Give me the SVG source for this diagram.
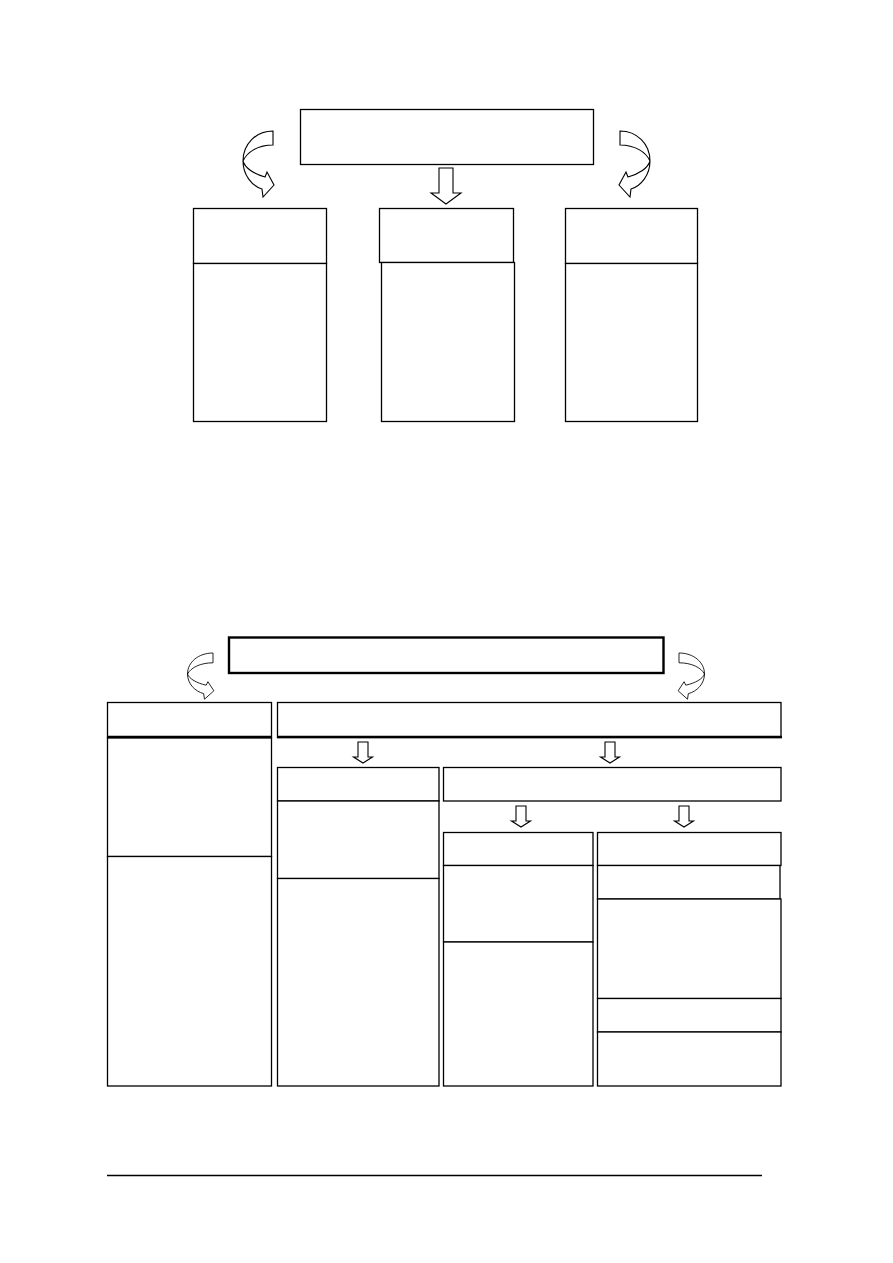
<svg xmlns="http://www.w3.org/2000/svg" xmlns:xlink="http://www.w3.org/1999/xlink" width="893" height="1263" viewBox="0 0 893 1263">
<style>
.b{fill:#fff;stroke:#000;stroke-width:1.3}
.t{fill:none;stroke:#000;stroke-width:2.4}
.l{fill:none;stroke:#000;stroke-width:1.3}
.a{fill:#fff;stroke:#000;stroke-width:1.1;vector-effect:non-scaling-stroke}
</style>
<defs>
<path id="curve" d="M0,0 C-17,0 -30,13 -30,30 C-30,44 -21,55 -11,58 L-10,66 L1,54 L-6,41 L-8,46 C-19,43 -28,37 -30,30 C-26,21 -15,14 0,14 Z"/>
<path id="down" d="M-5,0 L5,0 L5,15 L9.5,15 L0,21 L-9.5,15 L-5,15 Z"/>
<path id="bigdown" d="M-7,0 L7,0 L7,25 L15,25 L0,36 L-15,25 L-7,25 Z"/>
</defs>
<rect width="893" height="1263" fill="#fff"/>

<g id="connectors">
<use xlink:href="#curve" class="a" transform="translate(273,131)"/>
<use xlink:href="#curve" class="a" transform="translate(620,131) scale(-1,1)"/>
<use xlink:href="#bigdown" class="a" transform="translate(446,168)"/>
<use xlink:href="#curve" class="a" transform="translate(213,653) scale(0.85,0.7)"/>
<use xlink:href="#curve" class="a" transform="translate(679,653) scale(-0.85,0.7)"/>
<use xlink:href="#down" class="a" transform="translate(363,742)"/>
<use xlink:href="#down" class="a" transform="translate(610,742)"/>
<use xlink:href="#down" class="a" transform="translate(521,806)"/>
<use xlink:href="#down" class="a" transform="translate(684,806)"/>
</g>

<g id="top-root"><rect class="b" x="300.5" y="109.5" width="293" height="55"/></g>

<g id="top-left">
<rect class="b" x="193.5" y="208.5" width="133" height="55"/>
<rect class="b" x="193.5" y="263.5" width="133" height="158"/>
</g>
<g id="top-middle">
<rect class="b" x="379.5" y="208.5" width="134" height="54"/>
<rect class="b" x="381.5" y="262.5" width="133" height="159"/>
</g>
<g id="top-right">
<rect class="b" x="565.5" y="208.5" width="132" height="55"/>
<rect class="b" x="565.5" y="263.5" width="132" height="158"/>
</g>

<g id="bottom-root"><rect class="t" x="229" y="637.5" width="434.5" height="35.5"/></g>

<g id="left-column">
<rect class="b" x="107.5" y="702.5" width="164" height="35"/>
<line class="t" x1="107" y1="737" x2="272" y2="737"/>
<rect class="b" x="107.5" y="738" width="164" height="118.5"/>
<rect class="b" x="107.5" y="856.5" width="164" height="229.5"/>
</g>

<g id="right-header">
<rect class="b" x="277.5" y="702.5" width="503.5" height="35"/>
<line class="t" x1="277" y1="737" x2="782" y2="737"/>
</g>

<g id="col-a">
<rect class="b" x="277.5" y="767.5" width="161.5" height="33.5"/>
<rect class="b" x="277.5" y="801" width="161.5" height="77.5"/>
<rect class="b" x="277.5" y="878.5" width="161.5" height="207.5"/>
</g>

<g id="col-b-header">
<rect class="b" x="443.5" y="767.5" width="337.5" height="33.5"/>
</g>

<g id="col-b1">
<rect class="b" x="443.5" y="832.5" width="149.5" height="33"/>
<rect class="b" x="443.5" y="865.5" width="149.5" height="76.5"/>
<rect class="b" x="443.5" y="942" width="149.5" height="144"/>
</g>

<g id="col-b2">
<rect class="b" x="597.5" y="832.5" width="183.5" height="33"/>
<rect class="b" x="597.5" y="865.5" width="182.5" height="33.5"/>
<rect class="b" x="597.5" y="899" width="183.5" height="99.5"/>
<rect class="b" x="597.5" y="998.5" width="183.5" height="33.5"/>
<rect class="b" x="597.5" y="1032" width="183.5" height="54"/>
</g>

<line class="l" x1="107" y1="1175.5" x2="762" y2="1175.5"/>
</svg>
